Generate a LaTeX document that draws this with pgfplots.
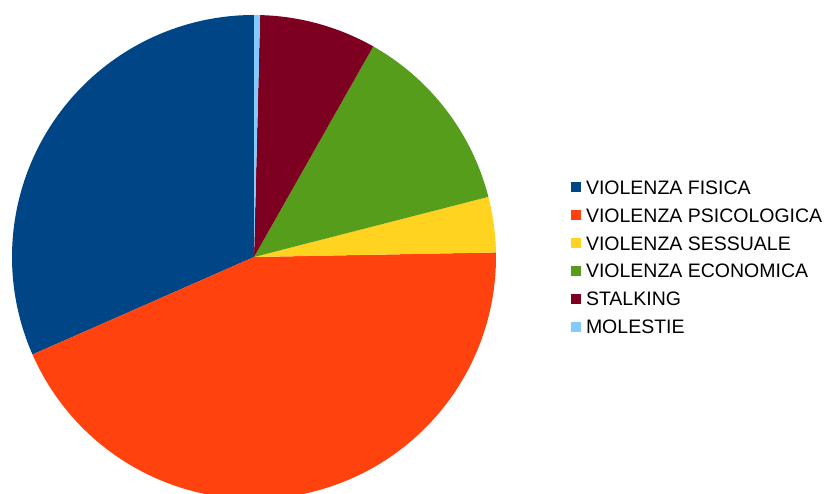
\documentclass[border=0pt]{standalone}
\usepackage{pgfplots}
\pgfplotsset{compat=1.18}
\usepackage{fontspec}
\setmainfont{Liberation Sans}
\definecolor{cFis}{HTML}{004586}
\definecolor{cPsi}{HTML}{FF420E}
\definecolor{cSes}{HTML}{FFD320}
\definecolor{cEco}{HTML}{579D1C}
\definecolor{cSta}{HTML}{7E0021}
\definecolor{cMol}{HTML}{83CAFF}
% shares in percent, counter-clockwise from 12 o'clock
\def\piedata{31.6/cFis,43.7/cPsi,3.7/cSes,12.8/cEco,7.8/cSta,0.4/cMol}
\newcommand\slice[3]{\fill[#3] (axis cs:254,236) -- ++(#1:242pt) arc[start angle=#1, end angle=#2, radius=242pt] -- cycle;}
\newcommand\legentry[3]{%
  \fill[#2] (axis cs:571,#1+2) rectangle (axis cs:581,#1+12);
  \node[anchor=base west, inner sep=0pt, outer sep=0pt, font=\fontsize{19.5}{22}\selectfont, text=black] at (axis cs:586,#1) {#3};}
\begin{document}
\begin{tikzpicture}
\path[use as bounding box, clip] (0,0) rectangle (825pt,493pt);
\begin{axis}[
  at={(0,0)}, anchor=origin,
  x=1pt, y=1pt, xmin=0, xmax=825, ymin=0, ymax=493,
  hide axis, clip=false,
]
\xdef\s{90}
\foreach \p/\c in \piedata {%
  \pgfmathsetmacro\e{\s+3.6*\p}%
  \edef\tmp{\noexpand\slice{\s}{\e}{\c}}\tmp
  \xdef\s{\e}%
}
\legentry{298.7}{cFis}{VIOLENZA FISICA}
\legentry{270.8}{cPsi}{VIOLENZA PSICOLOGICA}
\legentry{242.9}{cSes}{VIOLENZA SESSUALE}
\legentry{215.0}{cEco}{VIOLENZA ECONOMICA}
\legentry{187.1}{cSta}{STALKING}
\legentry{159.2}{cMol}{MOLESTIE}
\end{axis}
\end{tikzpicture}
\end{document}
